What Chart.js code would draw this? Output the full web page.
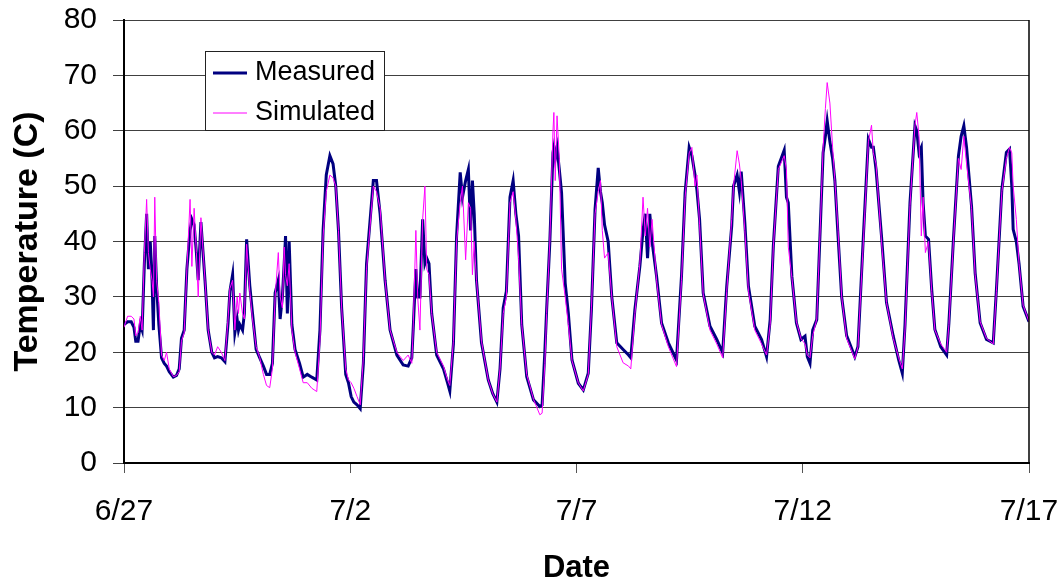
<!DOCTYPE html>
<html>
<head>
<meta charset="utf-8">
<script src="https://cdn.jsdelivr.net/npm/chart.js@4.4.1/dist/chart.umd.min.js"></script>
<style>
  body { margin: 0; background: #fff; }
  canvas { display: block; }
</style>
</head>
<body>
<canvas id="myChart" width="1063" height="583"></canvas>
<script>
// days since 6/27, one line per day
const days = [
    0, 0.08, 0.16, 0.22, 0.26, 0.31, 0.36, 0.40, 0.45, 0.50, 0.54, 0.58, 0.62, 0.65, 0.68, 0.72, 0.77, 0.83, 0.89, 0.94,
    1.00, 1.09, 1.16, 1.22, 1.27, 1.33, 1.39, 1.46, 1.50, 1.55, 1.60, 1.64, 1.70, 1.79, 1.86, 1.94,
    2.00, 2.07, 2.15, 2.23, 2.30, 2.34, 2.40, 2.45, 2.50, 2.53, 2.56, 2.62, 2.66, 2.71, 2.78, 2.84, 2.92,
    3.00, 3.08, 3.15, 3.22, 3.28, 3.34, 3.41, 3.45, 3.50, 3.54, 3.57, 3.61, 3.65, 3.71, 3.78, 3.88, 3.96,
    4.05, 4.15, 4.26, 4.33, 4.40, 4.47, 4.55, 4.62, 4.68, 4.74, 4.81, 4.90, 4.96,
    5.02, 5.08, 5.15, 5.22, 5.29, 5.36, 5.44, 5.51, 5.58, 5.66, 5.77, 5.88,
    6.03, 6.17, 6.28, 6.36, 6.39, 6.45, 6.49, 6.54, 6.60, 6.65, 6.69, 6.74, 6.80, 6.91,
    7.06, 7.15, 7.20, 7.28, 7.35, 7.43, 7.48, 7.55, 7.61, 7.66, 7.70, 7.74, 7.79, 7.90,
    8.05, 8.15, 8.24, 8.31, 8.38, 8.45, 8.53, 8.60, 8.66, 8.72, 8.79, 8.90,
    9.05, 9.19, 9.24, 9.30, 9.34, 9.41, 9.48, 9.50, 9.53, 9.57, 9.62, 9.67, 9.75, 9.82, 9.90,
    10.04, 10.15, 10.26, 10.33, 10.41, 10.48, 10.53, 10.57, 10.62, 10.70, 10.78, 10.89,
    11.03, 11.15, 11.20, 11.29, 11.40, 11.47, 11.52, 11.57, 11.62, 11.67, 11.77, 11.88,
    12.03, 12.21, 12.32, 12.40, 12.49, 12.55, 12.62, 12.66, 12.72, 12.80, 12.95,
    13.10, 13.23, 13.32, 13.43, 13.47, 13.55, 13.60, 13.64, 13.72, 13.80, 13.94,
    14.09, 14.20, 14.28, 14.35, 14.46, 14.59, 14.64, 14.68, 14.76, 14.86, 14.96,
    15.05, 15.10, 15.16, 15.22, 15.31, 15.38, 15.45, 15.50, 15.54, 15.60, 15.66, 15.71, 15.78, 15.86, 15.97,
    16.15, 16.22, 16.34, 16.45, 16.52, 16.56, 16.62, 16.74, 16.85,
    17.00, 17.12, 17.20, 17.26, 17.37, 17.48, 17.52, 17.57, 17.62, 17.66, 17.71, 17.78, 17.85, 17.92,
    18.05, 18.18, 18.23, 18.33, 18.44, 18.50, 18.56, 18.62, 18.73, 18.81, 18.92,
    19.06, 19.21, 19.28, 19.40, 19.50, 19.57, 19.62, 19.65, 19.72, 19.78, 19.87, 20.00
];

const measured = [
    25, 25.5, 25.5, 24.5, 22, 22, 25, 24, 36, 45, 35, 40, 33, 24, 41, 32, 25, 19, 18, 17.5,
    16.5, 15.5, 15.8, 17, 22.5, 24, 35, 42, 44, 43, 38, 33, 43.5, 33, 24, 20,
    19, 19.2, 19, 18.3, 25.3, 31, 34, 23.5, 26, 24, 25, 24, 27, 40.4, 32, 27, 20.5,
    19, 17.5, 16, 16, 18, 30.7, 33, 26, 30, 36, 41, 27, 40, 25, 20.5, 18, 15.5,
    16, 15.5, 15, 24, 42, 52, 55.5, 54, 50, 42, 28, 16, 14.5,
    12, 11, 10.5, 9.8, 18, 36, 44, 51, 51, 45, 33, 24,
    19.5, 17.7, 17.5, 19, 24, 35, 30, 30, 44, 36, 37, 36, 27, 19.5,
    17, 14.5, 13, 21.5, 41, 52.5, 48, 51, 53, 42, 51, 45, 33, 21.7,
    15, 12.5, 11, 17, 28, 31, 48, 51, 45, 41, 25, 15.6,
    11.4, 10.2, 10.5, 20, 27.7, 39.8, 56, 57, 55, 57, 53, 48.8, 32.5, 27, 18.6,
    14.4, 13.2, 16.2, 27.7, 45.8, 53.3, 49, 47, 43, 40, 30, 21.7,
    20.5, 19.5, 19, 27.7, 35.5, 42, 45, 37, 45, 40, 33.7, 25.3,
    21.7, 18.6, 33.7, 48.8, 57, 55.5, 52, 49.4, 44, 30.7, 24.7,
    22.3, 19.9, 31.9, 42.8, 50, 52, 49, 52.6, 43.4, 31.9, 24.7,
    22.3, 19.2, 25.9, 39.2, 53.6, 56.5, 48, 47, 33.7, 25.3, 22.3,
    22.9, 19.2, 18, 24, 25.9, 41, 56, 59, 61.8, 58, 55, 51, 41, 30, 23,
    19.2, 21, 41, 58.5, 57, 57, 53, 41, 29,
    22.9, 18.6, 16.2, 25, 47, 60.9, 60, 56, 57, 47, 41, 40.4, 31.3, 24.1,
    21, 19.5, 25.3, 40.4, 55.4, 59, 60.9, 57, 46.4, 34.3, 25.3,
    22.3, 21.7, 31.3, 49.4, 56.1, 56.7, 50, 42.2, 40, 36, 28.3, 25.5
];

const simulated = [
    24.5, 26.5, 26.5, 26, 23, 23.5, 26.5, 24, 38, 47.6, 38, 35, 33, 30, 48, 33, 29, 19.5, 18.5, 20,
    17, 15.6, 15.8, 16.5, 22, 23.5, 35, 47.6, 35.5, 46, 38, 30, 44.3, 33, 24, 20,
    19.5, 21, 20, 18.5, 26, 31.5, 33, 24, 30, 27, 30.7, 27, 26, 39.5, 31, 26, 21,
    19, 16, 14, 13.6, 17, 30, 38, 30, 28, 39, 34, 32, 36, 24, 20, 17, 14.5,
    14.5, 13.5, 12.9, 22, 41, 49, 52, 51.5, 50, 42, 28, 17, 15,
    14.5, 13.5, 12, 10.5, 19, 35, 43, 50, 49, 46, 33, 24,
    20, 18.5, 19.5, 18, 24, 42, 30, 24, 44, 50, 35, 34, 27, 20,
    17.5, 15, 14, 22, 40, 47, 50, 36.7, 47, 46, 34, 40, 33, 22,
    15, 12.5, 11, 17, 27, 30, 47, 49, 44, 37, 25, 16,
    11.5, 8.7, 9, 18, 27, 40, 60, 63.3, 51, 62.7, 55, 35, 30, 25, 18.5,
    14.5, 13, 16, 28, 45, 49, 51, 42, 37, 38, 30, 21,
    18.1, 17.5, 17, 27, 36, 48, 41, 46, 39, 44, 33, 25,
    21, 17.4, 33, 48, 56, 57, 50, 52, 43, 30.5, 24,
    21.5, 19, 31, 44, 50, 56.4, 54, 51, 42, 31, 24,
    21.5, 19.5, 25, 39, 53, 55.5, 53, 39, 33.5, 25.5, 22.5,
    21.5, 19.5, 19, 23, 26, 41, 57, 64, 68.7, 65, 57, 51, 42, 30, 22.5,
    18.8, 21, 40, 58, 61, 56, 54, 40, 29,
    22.5, 19, 17, 24, 46.5, 61, 63.3, 59, 41, 48, 38, 40, 31, 24,
    21.5, 20, 25, 40, 55, 53, 59, 54, 46, 34, 25.5,
    22.5, 21.5, 31, 49, 55, 57, 56, 50, 44, 36, 28.5, 25.5
];

const tickLabels = ["6/27", "7/2", "7/7", "7/12", "7/17"];

const FONT = "'Liberation Sans', Arial, sans-serif";

const toPoints = (vals) => days.map((d, i) => ({ x: d, y: vals[i] }));

// legend box inside the plot + right frame line
const boxLegend = {
    id: "boxLegend",
    afterDraw(chart) {
        const ctx = chart.ctx;
        const area = chart.chartArea;
        ctx.save();
        ctx.strokeStyle = "#000";
        ctx.lineWidth = 1.5;
        ctx.beginPath();
        ctx.moveTo(area.right, area.top);
        ctx.lineTo(area.right, area.bottom);
        ctx.stroke();

        ctx.fillStyle = "#fff";
        ctx.fillRect(206, 51, 178, 79);
        ctx.lineWidth = 1;
        ctx.strokeStyle = "#222";
        ctx.strokeRect(205.5, 51.5, 179, 79);

        const ds = chart.data.datasets;
        const rows = [73, 113];
        ds.forEach((d, i) => {
            ctx.strokeStyle = d.borderColor;
            ctx.lineWidth = d.borderWidth;
            ctx.beginPath();
            ctx.moveTo(213, rows[i]);
            ctx.lineTo(247, rows[i]);
            ctx.stroke();
            ctx.fillStyle = "#000";
            ctx.font = "27px " + FONT;
            ctx.textBaseline = "middle";
            ctx.textAlign = "left";
            ctx.fillText(d.label, 255, rows[i]);
        });
        ctx.restore();
    }
};

const ctx = document.getElementById("myChart").getContext("2d");
const myChart = new Chart(ctx, {
    type: "line",
    data: {
        datasets: [{
            label: "Measured",
            data: toPoints(measured),
            borderColor: "#000080",
            borderWidth: 3,
            order: 1
        }, {
            label: "Simulated",
            data: toPoints(simulated),
            borderColor: "#FF00FF",
            borderWidth: 1,
            order: 0
        }]
    },
    options: {
        responsive: false,
        animation: false,
        devicePixelRatio: 1,
        layout: { padding: { left: 0, top: 20, right: 34, bottom: 0 } },
        elements: {
            point: { radius: 0 },
            line: { tension: 0 }
        },
        plugins: {
            legend: { display: false },
            tooltip: { enabled: false }
        },
        scales: {
            x: {
                type: "linear",
                min: 0,
                max: 20,
                afterBuildTicks: (scale) => {
                    scale.ticks = tickLabels.map((t, i) => ({ value: i * 5 }));
                },
                afterFit: (scale) => {
                    scale.height = 120;
                    scale.paddingLeft = 0;
                    scale.paddingRight = 0;
                },
                ticks: {
                    callback: (v) => tickLabels[Math.round(v / 5)],
                    font: { size: 30, family: FONT },
                    color: "#000",
                    padding: 21,
                    maxRotation: 0,
                    autoSkip: false
                },
                grid: { drawOnChartArea: false, drawTicks: true, tickLength: 10, color: "#555" },
                border: { color: "#000", width: 2 },
                title: {
                    display: true,
                    text: "Date",
                    color: "#000",
                    font: { size: 31, weight: "bold", family: FONT },
                    padding: { top: 0, bottom: -4 }
                }
            },
            y: {
                min: 0,
                max: 80,
                afterFit: (scale) => {
                    scale.width = 124;
                    scale.paddingTop = 0;
                    scale.paddingBottom = 0;
                },
                ticks: {
                    stepSize: 10,
                    font: { size: 30, family: FONT },
                    color: "#000",
                    padding: 16
                },
                grid: { color: "#404040", tickLength: 11, lineWidth: 1 },
                border: { color: "#000", width: 2 },
                title: {
                    display: true,
                    text: "Temperature (C)",
                    color: "#000",
                    font: { size: 34, weight: "bold", family: FONT },
                    padding: { top: 7, bottom: 0 }
                }
            }
        }
    },
    plugins: [boxLegend]
});
</script>
</body>
</html>
